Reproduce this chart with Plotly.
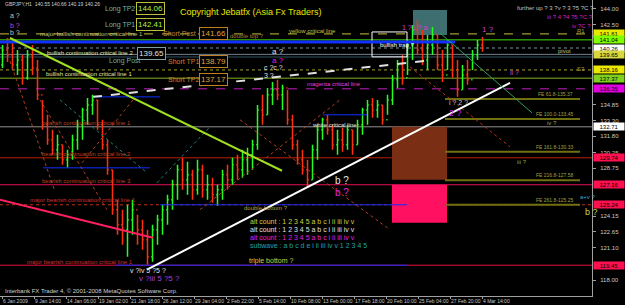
import plotly.graph_objects as go

# ---------------- DATA ----------------
# GBPJPY H1, bars grouped by 10 hours (x = H1 bar index)
bar_index = list(range(5, 975, 10))
open_ = [138.64,140.08,139.60,138.64,139.12,137.40,139.60,138.35,135.77,132.90,
         131.46,130.51,130.99,129.55,130.03,131.46,132.90,134.33,134.81,135.29,
         132.90,130.99,128.59,124.77,123.33,122.85,123.81,124.77,122.85,121.89,
         120.27,122.85,123.81,124.77,125.72,127.16,128.59,127.64,128.12,126.68,
         128.59,126.68,127.16,126.20,126.68,128.12,127.64,129.07,128.59,129.55,
         130.03,130.99,134.33,133.86,135.77,136.25,135.77,136.44,133.38,130.99,
         129.55,128.59,127.64,130.51,132.42,133.38,132.42,130.99,131.46,130.99,
         132.42,130.99,132.90,134.33,134.81,134.33,134.81,133.38,135.29,137.21,
         138.64,137.40,140.56,141.99,140.08,139.12,140.56,141.51,138.64,137.68,
         140.56,138.16,136.25,137.68,137.21,139.60,140.56]
high = [140.56,141.22,140.84,140.08,139.60,140.08,140.56,139.12,135.29,133.86,
        132.42,131.94,130.99,130.51,131.94,133.38,134.53,135.48,135.77,135.29,
        133.38,131.46,128.59,125.72,124.77,125.24,125.72,124.29,123.81,122.85,
        123.33,124.29,125.24,126.20,127.64,129.07,129.74,129.36,128.59,129.55,
        129.07,128.12,127.83,127.16,128.59,129.07,129.74,130.03,130.51,130.70,
        131.46,134.81,135.77,136.44,137.01,137.21,136.73,136.25,133.86,131.46,
        130.51,129.55,130.99,132.90,133.57,133.86,132.90,132.42,132.61,132.90,
        132.42,133.38,134.53,135.29,135.48,135.29,134.81,135.77,137.68,139.12,
        139.60,141.03,142.47,142.95,141.99,141.51,142.28,141.51,140.08,141.03,
        140.56,139.12,138.64,139.12,140.08,141.03,141.32]
low = [138.35,138.93,138.16,137.68,136.73,137.21,137.68,135.29,132.42,130.99,
       130.03,129.55,129.07,128.78,129.55,130.51,131.46,132.90,133.86,132.42,
       130.51,128.12,124.29,122.37,121.42,120.27,122.37,121.42,120.94,119.50,
       119.79,121.42,122.37,123.33,124.77,125.72,126.68,126.20,125.72,126.20,
       125.91,125.72,125.44,125.15,125.72,126.68,127.16,127.64,127.83,128.12,
       128.59,130.51,132.90,133.86,134.81,135.29,134.33,132.90,130.51,129.07,
       128.12,126.87,127.64,129.55,131.46,131.94,130.51,130.03,130.32,130.51,
       130.03,130.99,131.94,132.90,133.57,133.57,132.90,133.86,134.81,136.44,
       136.73,137.68,139.12,139.60,138.64,138.16,139.60,138.16,137.01,138.16,
       137.40,135.58,136.25,136.73,138.16,139.12,139.89]
close = [140.08,139.60,138.64,139.12,137.40,139.60,138.35,135.77,132.90,131.46,
         130.51,130.99,129.55,130.03,131.46,132.90,134.33,134.81,135.29,132.90,
         130.99,128.59,124.77,123.33,122.85,123.81,124.77,122.85,121.89,120.27,
         122.85,123.81,124.77,125.72,127.16,128.59,127.64,128.12,126.68,128.59,
         126.68,127.16,126.20,126.68,128.12,127.64,129.07,128.59,129.55,130.03,
         130.99,134.33,133.86,135.77,136.25,135.77,136.44,133.38,130.99,129.55,
         128.59,127.64,130.51,132.42,133.38,132.42,130.99,131.46,130.99,132.42,
         130.99,132.90,134.33,134.81,134.33,134.81,133.38,135.29,137.21,138.64,
         137.40,140.56,141.99,140.08,139.12,140.56,141.51,138.64,137.68,140.56,
         138.16,136.25,137.68,137.21,139.60,140.56,140.26]

time_tick_bars = [4, 68, 132, 196, 260, 324, 388, 452, 516, 580, 644, 708, 772, 836, 900, 964]
time_tick_labels = ["6 Jan 2009", "9 Jan 14:00", "14 Jan 06:00", "19 Jan 02:00", "21 Jan 18:00",
                    "26 Jan 12:00", "29 Jan 04:00", "2 Feb 22:00", "5 Feb 14:00", "10 Feb 08:00",
                    "13 Feb 00:00", "17 Feb 18:00", "20 Feb 10:00", "25 Feb 04:00", "27 Feb 20:00",
                    "4 Mar 14:00"]
# price scale labels that are not hidden behind the coloured price boxes
price_ticks = [116.45, 118.00, 121.10, 122.65, 124.15, 128.75, 130.25,
               131.80, 133.30, 134.85, 142.50, 144.00]
price_tick_labels = ["116.45", "118.00", "121.10", "122.65", "124.15", "128.75", "130.25",
                     "131.80", "133.30", "134.85", "142.50", "144.00"]

# full width horizontal levels
level_prices = [141.61, 141.04, 140.26, 139.65, 139.40, 138.16, 137.37, 136.35,
                132.71, 129.74, 127.16, 125.24, 119.45]
level_styles = [dict(color="#c8c040", dash="dash", width=1),
                dict(color="#40e000", dash="solid", width=1),
                dict(color="#8090a0", dash="dot", width=1),
                dict(color="#708090", dash="solid", width=1),
                dict(color="#305060", dash="solid", width=1),
                dict(color="#a0a020", dash="dot", width=1),
                dict(color="#80b020", dash="solid", width=1),
                dict(color="#c020c0", dash="dash", width=1),
                dict(color="#909090", dash="solid", width=1),
                dict(color="#c02000", dash="solid", width=1),
                dict(color="#e01050", dash="solid", width=1),
                dict(color="#c03010", dash="dot", width=1),
                dict(color="#e01040", dash="solid", width=1)]
# right axis price boxes
box_prices = [141.61, 141.04, 140.26, 139.65, 138.16, 137.37, 136.35, 132.71, 129.74, 127.16, 125.24, 119.45]
box_labels = ["141.61", "141.04", "140.26", "139.65", "138.16", "137.37", "136.35", "132.71",
              "129.74", "127.16", "125.24", "119.45"]
box_colors = ["#e8e800", "#80ff00", "#ffffff", "#d8d840", "#e8e800", "#80d020", "#e000e0", "#ffffff",
              "#ff1050", "#ff1050", "#ff1050", "#ff1050"]

# partial (blue) levels
blue_prices = [140.84, 135.58, 133.86, 128.78, 125.24, 119.45]
blue_start = [0, 186, 646, 86, 320, 230]
blue_end = [910, 320, 734, 300, 814, 814]

# Fibonacci expansion levels
fe_prices = [135.37, 133.45, 130.33, 127.58, 125.25]
fe_labels = ["FE 61.8-135.37", "FE 100.0-133.45", "FE 161.8-130.33", "FE 216.8-127.58", "FE 261.8-125.25"]
fe_start, fe_end = 890, 1160

# trend lines (bar0, price0, bar1, price1)
trend_lines = [(20, 141.22, 564, 128.50),     # yellow-green
               (294, 119.02, 1020, 136.92),   # white support
               (186, 135.58, 850, 139.02),    # white upper
               (0, 125.72, 306, 122.09),      # pink
               (880, 141.70, 1064, 134.05)]   # green
trend_styles = [dict(color="#a0e020", width=2, dash="solid"),
                dict(color="#ffffff", width=2, dash="solid"),
                dict(color="#e0e0e0", width=2, dash="dash"),
                dict(color="#ff2060", width=2, dash="solid"),
                dict(color="#30a060", width=1, dash="solid")]
dotted_lines = [(820, 138.45, 1020, 130.79), (80, 135.29, 214, 124.77), (120, 135.29, 294, 128.31),
                (164, 129.26, 266, 135.29), (314, 127.35, 420, 132.71), (400, 124.77, 680, 135.29),
                (480, 133.38, 780, 122.85), (20, 139.0, 110, 126.5)]
dotted_colors = ["#c03010", "#b04020", "#208080", "#b04020", "#208080", "#b04020", "#b04020", "#b04020"]

# zones (bar0, bar1, price_low, price_high)
zones = [(784, 894, 127.64, 132.71), (784, 894, 123.52, 127.16), (826, 894, 141.51, 143.90)]
zone_colors = ["#7a2e14", "#ff1060", "#3e6e70"]

# ---------------- FIGURE ----------------
fig = go.Figure()
fig.add_trace(go.Ohlc(x=bar_index, open=open_, high=high, low=low, close=close,
                      increasing_line_color="#20ff20", decreasing_line_color="#ff3010",
                      line_width=1.5, tickwidth=0.25, showlegend=False, hoverinfo="skip"))

shapes = []
for (b0, b1, p0, p1), c in zip(zones, zone_colors):
    shapes.append(dict(type="rect", xref="x", yref="y", x0=b0, x1=b1, y0=p0, y1=p1,
                       fillcolor=c, line=dict(width=0), layer="below"))
shapes.append(dict(type="rect", xref="x", yref="y", x0=744, x1=814, y0=139.41, y1=141.80,
                   line=dict(color="#ffffff", width=1), fillcolor="rgba(0,0,0,0)"))
for p, st in zip(level_prices, level_styles):
    shapes.append(dict(type="line", xref="paper", yref="y", x0=0, x1=1, y0=p, y1=p, line=st, layer="below"))
for p, b0, b1 in zip(blue_prices, blue_start, blue_end):
    w = 3 if p == blue_prices[0] else 1
    shapes.append(dict(type="line", xref="x", yref="y", x0=b0, x1=b1, y0=p, y1=p,
                       line=dict(color="#1030ff", width=w)))
for p in fe_prices:
    shapes.append(dict(type="line", xref="x", yref="y", x0=fe_start, x1=fe_end, y0=p, y1=p,
                       line=dict(color="#707010", width=2)))
for (b0, p0, b1, p1), c in zip(dotted_lines, dotted_colors):
    shapes.append(dict(type="line", xref="x", yref="y", x0=b0, x1=b1, y0=p0, y1=p1,
                       line=dict(color=c, width=1, dash="dot")))
for (b0, p0, b1, p1), st in zip(trend_lines, trend_styles):
    shapes.append(dict(type="line", xref="x", yref="y", x0=b0, x1=b1, y0=p0, y1=p1, line=st))

ann = []
FONT = "Liberation Sans, Arial"


def txt(x, y, t, color, size=6, anchor="left", **kw):
    ann.append(dict(x=x, y=y, xref=kw.pop("xref", "x"), yref=kw.pop("yref", "y"), text=t,
                    showarrow=False, xanchor=anchor, yanchor="middle",
                    font=dict(family=FONT, size=size, color=color), **kw))


def boxed(x, y, t, color, border):
    ann.append(dict(x=x, y=y, xref="x", yref="y", text=t, showarrow=False, xanchor="center",
                    yanchor="middle", font=dict(family=FONT, size=8, color=color),
                    bordercolor=border, borderwidth=1, borderpad=1, bgcolor="#000000"))


txt(0.005, 0.985, "GBPJPY,H1  140.55 140.66 140.19 140.26", "#d0d0d0", 5, xref="paper", yref="paper")
txt(0.005, 0.017, "Interbank FX Trader 4, © 2001-2008 MetaQuotes Software Corp.", "#d0d0d0", 6,
    xref="paper", yref="paper")
txt(356, 143.71, "Copyright Jebatfx (Asia Fx Traders)", "#e8e800", 9)
txt(206, 144.00, "Long TP2", "#70b0b0", 7)
boxed(300, 144.00, "144.06", "#b0f040", "#c0c040")
txt(206, 142.47, "Long TP1", "#70b0b0", 7)
boxed(300, 142.47, "142.41", "#b0f040", "#c0c040")
txt(76, 141.61, "major bullish continuation critical line 1", "#c8c070")
txt(322, 141.61, "Short Post", "#d08030", 7)
boxed(426, 141.61, "141.66", "#e0a040", "#c08020")
txt(456, 141.42, "double top ?", "#a08040")
txt(574, 141.90, "yellow critical line", "#c0c040")
txt(90, 139.74, "bullish continuation critical line 2", "#e0e0a0")
boxed(302, 139.74, "139.65", "#e0e0e0", "#80a0a0")
txt(214, 139.02, "Long Post", "#60b0b0", 7)
txt(332, 138.93, "Short TP1", "#d08030", 7)
boxed(426, 138.93, "138.79", "#e0a040", "#c08020")
txt(88, 137.78, "bullish continuation critical line 1", "#e0e0a0")
txt(332, 137.21, "Short TP2", "#d08030", 7)
boxed(426, 137.21, "137.17", "#e0a040", "#c08020")
txt(756, 140.56, "bullish trap ?", "#ffffff")
txt(610, 136.82, "magenta critical line", "#e040e0")
txt(620, 132.90, "white critical line", "#e0e0e0")
txt(80, 133.09, "bearish continuation critical line 1", "#c04020")
txt(80, 130.12, "bearish continuation critical line 2", "#c04020")
txt(80, 127.54, "bearish continuation critical line 3", "#c04020")
txt(56, 125.72, "major bearish continuation critical line 1", "#d03030")
txt(50, 119.79, "major bearish continuation critical line 1", "#d03030")
txt(484, 124.96, "double bottom ?", "#b0a040")
txt(496, 123.62, "alt count : 1 2 3 4 5 a b c i ii iii iv v", "#d0d040", 7)
txt(496, 122.85, "alt count : 1 2 3 4 5 a b c i ii iii iv v", "#e0e0e0", 7)
txt(496, 122.09, "alt count : 1 2 3 4 5 a b c i ii iii iv v", "#e020e0", 7)
txt(496, 121.32, "subwave : a b c d e i ii iii iv v 1 2 3 4 5", "#20a0b0", 7)
txt(494, 119.89, "triple bottom ?", "#d0d040", 7)
for p, t in zip(fe_prices, fe_labels):
    ann.append(dict(x=fe_end - 10, y=p, xref="x", yref="y", text=t, showarrow=False, xanchor="right",
                    yanchor="bottom", font=dict(family=FONT, size=5, color="#a0a040")))
txt(1090, 133.09, "iv ?", "#a0a040")
txt(1030, 129.36, "iii ?", "#a0a040")
txt(1166, 124.57, "b ?", "#d0d040", 9)
txt(1156, 125.95, "a+v ?", "#40a0c0", 6)
txt(1030, 144.10, "further up ? 3 ?v ? 3 ?5 ?C ?", "#c0c0c0", 6)
txt(1090, 143.23, "iii ? 4 ?4 ?5 ?C ?", "#d020d0", 6)
txt(1140, 142.37, "iv ?C ?", "#d020d0", 6)
txt(1150, 141.89, "R1", "#a0a040")
txt(1112, 139.98, "pivot", "#c0c080")
txt(1150, 138.26, "S3", "#a0a040")
txt(666, 127.54, "b ?", "#e0e0e0", 10)
txt(666, 126.39, "b ?", "#e020e0", 10)
txt(540, 139.89, "a ?", "#e0e0e0", 8)
txt(540, 139.02, "a ?", "#e020e0", 8)
txt(524, 138.35, "c ?c ?", "#e0e0e0", 7)
txt(524, 137.59, "3 ?", "#e0e0e0", 7)
txt(800, 142.18, "1 ?1 ? a", "#d040d0", 7)
txt(960, 141.99, "1 ?", "#d040d0", 8)
txt(1016, 137.88, "ii ?", "#d040d0", 7)
txt(894, 135.00, "i ? 2 ?", "#c0c0c0", 7)
txt(894, 134.05, "2 ?", "#c020e0", 9)
txt(256, 118.93, "v ?iv 5 ?5 ?", "#e0e0e0", 7)
txt(274, 118.16, "v ?iii 5 ?5 ?", "#a040e0", 8)
txt(16, 143.40, "a ?", "#c0c0c0", 7)
txt(16, 142.40, "b ?", "#d040d0", 7)
txt(16, 141.75, "b ?", "#c0c0c0", 7)

for p, t, c in zip(box_prices, box_labels, box_colors):
    ann.append(dict(x=1, y=p, xref="paper", yref="y", text=t, showarrow=False, xanchor="left",
                    yanchor="middle", xshift=1, font=dict(family=FONT, size=6, color="#000000"),
                    bgcolor=c, borderpad=0, width=30, height=7))

fig.update_layout(
    width=625, height=305, margin=dict(l=0, r=33, t=0, b=9),
    paper_bgcolor="#000000", plot_bgcolor="#000000",
    shapes=shapes, annotations=ann, showlegend=False,
    xaxis=dict(range=[0, 1184], tickvals=time_tick_bars, ticktext=time_tick_labels, tickangle=0,
               ticklabelposition="outside right", tickfont=dict(family=FONT, size=5, color="#c8c8c8"),
               ticks="outside", ticklen=2, tickcolor="#a0a0a0", showgrid=False, zeroline=False,
               showline=True, linecolor="#a0a0a0", linewidth=1, rangeslider=dict(visible=False)),
    yaxis=dict(range=[116.50, 144.86], side="right", tickvals=price_ticks, ticktext=price_tick_labels,
               tickfont=dict(family=FONT, size=6, color="#c8c8c8"), ticks="outside", ticklen=3,
               ticklabelstandoff=3,
               tickcolor="#a0a0a0", showgrid=False, zeroline=False, showline=True,
               linecolor="#a0a0a0", linewidth=1),
)

fig.write_html("out.html")
